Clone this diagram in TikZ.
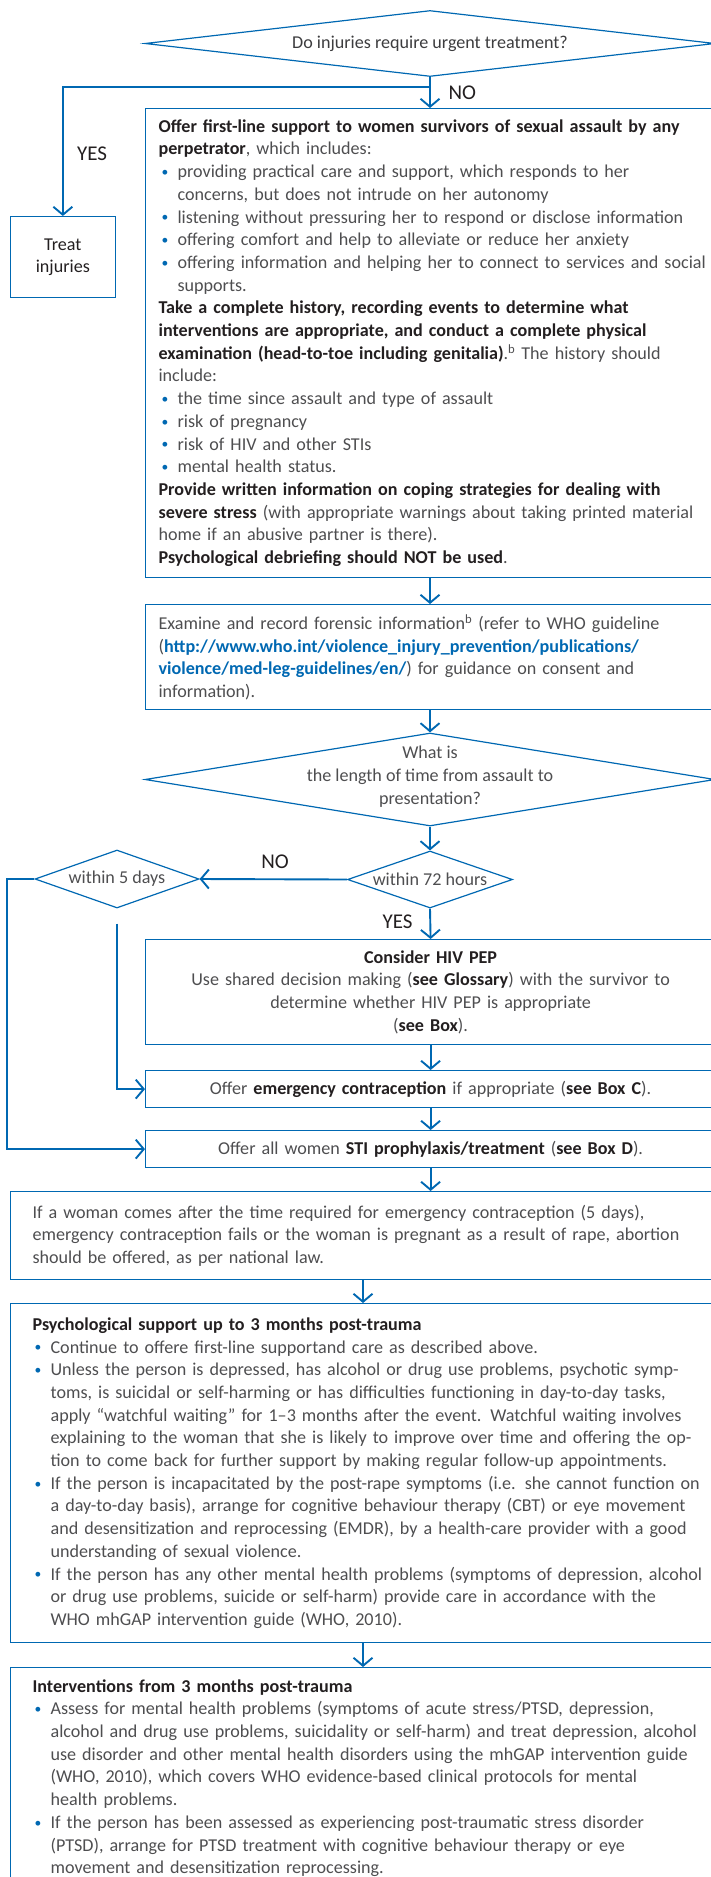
\documentclass[tikz,border=0pt]{standalone}
\usepackage{fontspec}
\setmainfont{Carlito}
\usetikzlibrary{shapes.geometric,arrows.meta}

\definecolor{whoblue}{RGB}{0,104,178}
\definecolor{bodygray}{RGB}{78,78,80}
\definecolor{qgray}{RGB}{60,60,62}
\definecolor{darktext}{RGB}{35,31,32}

\newcommand{\boldword}[1]{\textcolor{darktext}{\bfseries #1}}
\newcommand{\weblink}[1]{\textcolor{whoblue}{\bfseries #1}}
\newcommand{\dotmark}{\raisebox{1.2pt}{\scalebox{0.75}{\textcolor{whoblue}{\textbullet}}}}
\newcommand{\bitem}{\makebox[19pt][l]{\hspace{3pt}\dotmark}}
\newcommand{\bcont}{\hspace*{19pt}}
\newcommand{\pitem}{\makebox[18pt][l]{\hspace{2pt}\dotmark}}
\newcommand{\pcont}{\hspace*{18pt}}

\tikzset{
  every node/.style={font=\fontsize{18.1}{22.7}\selectfont},
  box/.style={rectangle, draw=whoblue, line width=1.2pt, anchor=north west,
    inner xsep=13pt, inner ysep=0pt, text=bodygray},
  leftbox/.style={box, align=left, text width=620pt},
  midbox/.style={box, align=center, text width=544pt},
  widebox/.style={box, align=left, inner xsep=22.5pt, text width=760pt},
  decision/.style={diamond, draw=whoblue, line width=1.2pt, inner sep=0pt, text=bodygray},
  conn/.style={draw=whoblue, line width=1.9pt},
  arr/.style={-{Straight Barb[length=8pt,width=19pt]}},
  lbl/.style={text=darktext, font=\fontsize{21}{24}\selectfont},
}

\begin{document}
\begin{tikzpicture}[x=1pt,y=1pt]
\useasboundingbox (0,0) rectangle (711,-1877);
\clip (0,0) rectangle (711,-1877);

% arrow columns
\coordinate (colA) at (430,0);
\coordinate (colB) at (363,0);

% first question
\node[decision, text=qgray, minimum width=570pt, minimum height=66pt, shape aspect=8.6] (injq) at (430,-43.5) {Do injuries require urgent treatment?};

\node[leftbox, minimum height=469pt] (support) at (145,-108) {%
\boldword{Offer first-line support to women survivors of sexual assault by any}\\
\boldword{perpetrator}, which includes:\\
\bitem providing practical care and support, which responds to her\\
\bcont concerns, but does not intrude on her autonomy\\
\bitem listening without pressuring her to respond or disclose information\\
\bitem offering comfort and help to alleviate or reduce her anxiety\\
\bitem offering information and helping her to connect to services and social\\
\bcont supports.\\
\boldword{Take a complete history, recording events to determine what}\\
\boldword{interventions are appropriate, and conduct a complete physical}\\
\boldword{examination (head-to-toe including genitalia)}.\textsuperscript{b} The history should\\
include:\\
\bitem the time since assault and type of assault\\
\bitem risk of pregnancy\\
\bitem risk of HIV and other STIs\\
\bitem mental health status.\\
\boldword{Provide written information on coping strategies for dealing with}\\
\boldword{severe stress} (with appropriate warnings about taking printed material\\
home if an abusive partner is there).\\
\boldword{Psychological debriefing should NOT be used}.};

\node[box, align=center, text=darktext, inner xsep=0pt, minimum width=105.5pt, minimum height=81pt] (treat) at (9.5,-216) {Treat\\injuries};

\node[leftbox, minimum height=105pt] (forensic) at (145,-604) {%
Examine and record forensic information\textsuperscript{b} (refer to WHO guideline\\
(\weblink{http://www.who.int/violence\_injury\_prevention/publications/}\\
\weblink{violence/med-leg-guidelines/en/}) for guidance on consent and\\
information).};

% time questions
\node[decision, minimum width=570pt, minimum height=93pt] (timeq) at (430,-779.5) {};
\node[text=bodygray, align=center] (timeqtext) at ([yshift=3pt]timeq.center) {What is\\the length of time from assault to\\presentation?};
\node[decision, minimum width=165pt, minimum height=57pt, shape aspect=2.9] (h72) at (430,-879.5) {within 72 hours};
\node[decision, minimum width=164pt, minimum height=58pt, shape aspect=2.83] (d5) at (117,-879) {within 5 days};

\node[midbox, minimum height=105pt] (pep) at (145,-939) {%
\boldword{Consider HIV PEP}\\
Use shared decision making (\boldword{see Glossary}) with the survivor to\\
determine whether HIV PEP is appropriate\\
(\boldword{see Box}).};
\node[midbox, minimum height=37pt] (ec) at (145,-1070) {Offer \boldword{emergency contraception} if appropriate (\boldword{see Box C}).};
\node[midbox, minimum height=37pt] (sti) at (145,-1130) {Offer all women \boldword{STI prophylaxis/treatment} (\boldword{see Box D}).};

\node[widebox, minimum height=88pt] (abort) at (9.5,-1191) {%
If a woman comes after the time required for emergency contraception (5 days),\\
emergency contraception fails or the woman is pregnant as a result of rape, abortion\\
should be offered, as per national law.};

\node[widebox, minimum height=339pt] (psych) at (9.5,-1303) {%
\boldword{Psychological support up to 3 months post-trauma}\\
\pitem Continue to offere first-line supportand care as described above.\\
\pitem Unless the person is depressed, has alcohol or drug use problems, psychotic symp-\\
\pcont toms, is suicidal or self-harming or has difficulties functioning in day-to-day tasks,\\
\pcont apply ``watchful waiting'' for 1--3 months after the event. Watchful waiting involves\\
\pcont explaining to the woman that she is likely to improve over time and offering the op-\\
\pcont tion to come back for further support by making regular follow-up appointments.\\
\pitem If the person is incapacitated by the post-rape symptoms (i.e. she cannot function on\\
\pcont a day-to-day basis), arrange for cognitive behaviour therapy (CBT) or eye movement\\
\pcont and desensitization and reprocessing (EMDR), by a health-care provider with a good\\
\pcont understanding of sexual violence.\\
\pitem If the person has any other mental health problems (symptoms of depression, alcohol\\
\pcont or drug use problems, suicide or self-harm) provide care in accordance with the\\
\pcont WHO mhGAP intervention guide (WHO, 2010).};

\node[widebox, minimum height=221pt] (interv) at (9.5,-1667) {%
\boldword{Interventions from 3 months post-trauma}\\
\pitem Assess for mental health problems (symptoms of acute stress/PTSD, depression,\\
\pcont alcohol and drug use problems, suicidality or self-harm) and treat depression, alcohol\\
\pcont use disorder and other mental health disorders using the mhGAP intervention guide\\
\pcont (WHO, 2010), which covers WHO evidence-based clinical protocols for mental\\
\pcont health problems.\\
\pitem If the person has been assessed as experiencing post-traumatic stress disorder\\
\pcont (PTSD), arrange for PTSD treatment with cognitive behaviour therapy or eye\\
\pcont movement and desensitization reprocessing.};

% yes / no labels
\node[lbl, anchor=west] (nolbl) at (445,-93) {NO};
\node[lbl] (yeslbl) at (92,-154) {YES};
\node[lbl] (nolbl2) at (275,-862) {NO};
\node[lbl, anchor=east] (yeslbl2) at (416,-922) {YES};

% connectors
\draw[conn, arr] (injq.south) -- (injq.south |- support.north);
\draw[conn, arr] (injq.south) -- ++(0,-10) -| (treat.north);
\draw[conn, arr] (support.south -| colA) -- (forensic.north -| colA);
\draw[conn, arr] (forensic.south -| colA) -- (timeq.north);
\draw[conn, arr] (timeq.south) -- (h72.north);
\draw[conn, arr] (h72.west) -- (d5.east);
\draw[conn, arr] (h72.south) -- (pep.north);
\draw[conn, arr] (pep.south) -- (ec.north);
\draw[conn, arr] (ec.south) -- (sti.north);
\draw[conn, arr, shorten <=15pt] (d5.south) |- (ec.west);
\draw[conn, arr] (d5.west) -- ++(-27,0) |- (sti.west);
\draw[conn, arr] (sti.south) -- (sti.south |- abort.north);
\draw[conn, arr] (abort.south -| colB) -- (psych.north -| colB);
\draw[conn, arr] (psych.south -| colB) -- (interv.north -| colB);
\end{tikzpicture}
\end{document}
